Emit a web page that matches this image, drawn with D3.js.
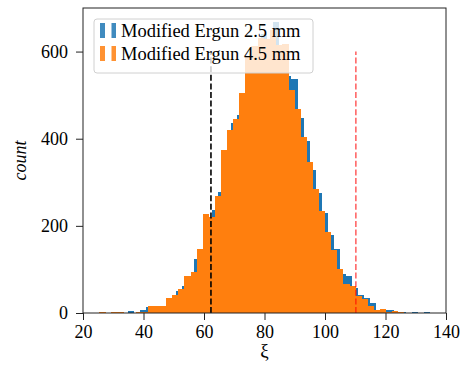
<!DOCTYPE html>
<html>
<head>
<meta charset="utf-8">
<script src="https://cdn.jsdelivr.net/npm/d3@7"></script>
<style>
  body { margin: 0; background: #fff; }
  svg { display: block; }
  svg text { font-family: "Liberation Serif", "DejaVu Serif", serif !important; }
</style>
</head>
<body>
<div id="chart"></div>
<script>
// histogram bins (equal width), counts
var blueStart = 34.8, blueWidth = 1.998;
var blueCounts = [5, 1, 7, 14, 14, 16, 17, 34, 50, 61,
  80, 123, 145, 210, 236, 277, 360, 437, 455, 500,
  560, 590, 640, 612, 667, 610, 545, 538, 448, 395,
  329, 275, 230, 179, 146, 90, 84, 58, 42, 35,
  22, 6, 6, 8, 3, 2, 1, 2, 1, 2];

var orangeStart = 25.3, orangeWidth = 2.016;
var orangeCounts = [3, 0, 2, 2, 0, 1, 2, 3, 17, 15,
  17, 35, 42, 54, 84, 95, 148, 227, 221, 268,
  375, 421, 445, 506, 590, 612, 632, 630, 650, 616,
  618, 512, 468, 405, 347, 285, 234, 185, 144, 100,
  66, 61, 38, 31, 15, 8, 9, 3, 5, 3];

var seriesNames = ["Modified Ergun 2.5 mm", "Modified Ergun 4.5 mm"];
var seriesColors = ["#1f77b4", "#ff7f0e"];

var xTicks = [20, 40, 60, 80, 100, 120, 140];
var yTicks = [0, 200, 400, 600];

// reference lines: [xi, top count, colour, opacity]
var refLines = [[62.3, 600, "#000000", 1], [110.2, 600, "#ff0000", 0.6]];

var W = 462, H = 367;
var margin = {top: 8, right: 16, bottom: 54, left: 83};

var svg = d3.select("#chart").append("svg")
  .attr("width", W).attr("height", H);

var x = d3.scaleLinear().domain([20, 140]).range([margin.left, W - margin.right]);
var y = d3.scaleLinear().domain([0, 700]).range([H - margin.bottom, margin.top]);

function bins(start, width, counts) {
  return counts.map(function (c, i) {
    return {x0: start + i * width, x1: start + (i + 1) * width, count: c};
  });
}

var series = [bins(blueStart, blueWidth, blueCounts), bins(orangeStart, orangeWidth, orangeCounts)];

svg.append("defs").append("clipPath").attr("id", "plot")
  .append("rect").attr("x", x(20)).attr("y", y(700))
  .attr("width", x(140) - x(20)).attr("height", y(0) - y(700));

var plot = svg.append("g").attr("clip-path", "url(#plot)");

series.forEach(function (data, s) {
  plot.append("g").attr("shape-rendering", "crispEdges")
    .selectAll("rect").data(data.filter(function (d) { return d.count > 0; }))
    .enter().append("rect")
    .attr("x", function (d) { return x(d.x0); })
    .attr("width", function (d) { return x(d.x1) - x(d.x0) + 0.5; })
    .attr("y", function (d) { return y(d.count); })
    .attr("height", function (d) { return y(0) - y(d.count); })
    .attr("fill", seriesColors[s]);
});

refLines.forEach(function (r) {
  plot.append("line")
    .attr("x1", x(r[0])).attr("x2", x(r[0]))
    .attr("y1", y(0)).attr("y2", y(r[1]))
    .attr("stroke", r[2]).attr("stroke-opacity", r[3])
    .attr("stroke-width", 1.6)
    .attr("stroke-dasharray", "6,2.6");
});

// axes
var xAxis = svg.append("g").attr("transform", "translate(0," + y(0) + ")")
  .call(d3.axisBottom(x).tickValues(xTicks).tickSize(7).tickPadding(5).tickFormat(d3.format("d")));
var yAxis = svg.append("g").attr("transform", "translate(" + x(20) + ",0)")
  .call(d3.axisLeft(y).tickValues(yTicks).tickSize(7).tickPadding(8).tickFormat(d3.format("d")));

[xAxis, yAxis].forEach(function (a) {
  a.attr("font-family", "Liberation Serif").attr("font-size", 18);
  a.select(".domain").remove();
  a.selectAll(".tick line").attr("stroke", "#222").attr("stroke-width", 1);
  a.selectAll(".tick text").attr("fill", "#000");
});

// frame
svg.append("rect")
  .attr("x", x(20)).attr("y", y(700))
  .attr("width", x(140) - x(20)).attr("height", y(0) - y(700))
  .attr("fill", "none").attr("stroke", "#222").attr("stroke-width", 1);

// axis labels
svg.append("text")
  .attr("x", (x(20) + x(140)) / 2).attr("y", 357)
  .attr("text-anchor", "middle").attr("font-size", 19)
  .text("ξ");

svg.append("text")
  .attr("transform", "translate(26," + ((y(0) + y(700)) / 2) + ") rotate(-90)")
  .attr("text-anchor", "middle").attr("font-size", 18).attr("font-style", "italic")
  .text("count");

// legend
var lg = svg.append("g").attr("transform", "translate(94,19)");
lg.append("rect")
  .attr("width", 219).attr("height", 54).attr("rx", 3)
  .attr("fill", "#fff").attr("fill-opacity", 0.8)
  .attr("stroke", "#d0d0d0").attr("stroke-width", 1);

seriesNames.forEach(function (name, i) {
  var row = lg.append("g").attr("transform", "translate(0," + (4 + i * 23) + ")");
  row.append("rect").attr("x", 6).attr("y", 0).attr("width", 5).attr("height", 15)
    .attr("fill", seriesColors[i]).attr("fill-opacity", 0.85);
  row.append("rect").attr("x", 17.5).attr("y", 0).attr("width", 4.5).attr("height", 15)
    .attr("fill", seriesColors[i]).attr("fill-opacity", 0.85);
  row.append("text").attr("x", 27).attr("y", 14)
    .attr("font-size", 18.5).text(name);
});
</script>
</body>
</html>
